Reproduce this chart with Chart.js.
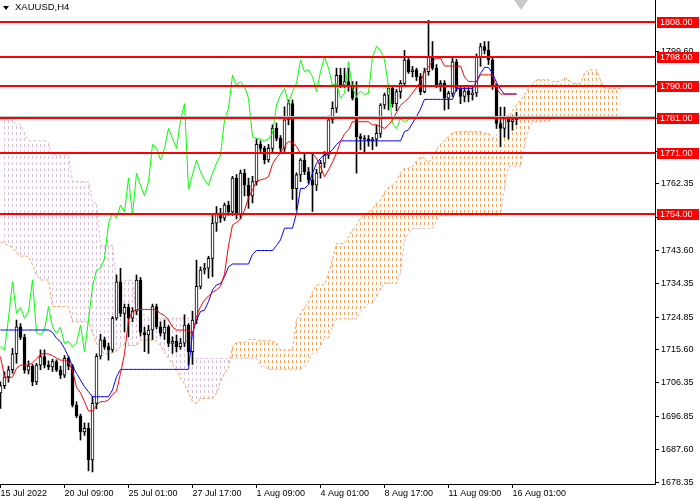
<!DOCTYPE html>
<html>
<head>
<meta charset="utf-8">
<script src="https://cdn.jsdelivr.net/npm/chart.js@4.4.0/dist/chart.umd.min.js"></script>
<style>
html, body { margin: 0; padding: 0; background: #fff; }
#wrap { position: relative; width: 700px; height: 500px; }
#symbol { position: absolute; left: 15px; top: 1px; font: 9.5px "Liberation Sans", Arial, sans-serif; color: #000; }
#menu { position: absolute; left: 3px; top: 6px; width: 0; height: 0; border-left: 3.5px solid transparent; border-right: 3.5px solid transparent; border-top: 4px solid #000; }
#shift { position: absolute; left: 514px; top: 0; width: 0; height: 0; border-left: 7px solid transparent; border-right: 7px solid transparent; border-top: 10px solid #c8c8c8; }
</style>
</head>
<body>
<div id="wrap">
<canvas id="chart" width="700" height="500"></canvas>
<div id="menu"></div>
<div id="symbol">XAUUSD,H4</div>
<div id="shift"></div>
</div>
<script>
// Datos de las velas H4 (barra 0 = 15 Jul 17:00)
const openPrices = [
  1703.5, 1705.5, 1708.0, 1710.0, 1714.5, 1722.1, 1719.1, 1709.9, 1711.0, 1706.6,
  1711.3, 1713.7, 1711.3, 1710.8, 1712.3, 1709.9, 1708.5, 1713.2, 1711.0, 1700.0,
  1697.0, 1692.5, 1693.5, 1684.6, 1700.5, 1713.8, 1718.4, 1716.5, 1715.6, 1724.5,
  1734.8, 1725.9, 1727.6, 1724.5, 1726.5, 1735.3, 1720.5, 1719.8, 1721.2, 1727.8,
  1722.1, 1720.3, 1722.0, 1717.4, 1718.0, 1716.5, 1717.5, 1722.6, 1715.1, 1724.0,
  1733.5, 1738.1, 1738.6, 1741.4, 1751.3, 1754.1, 1752.7, 1756.4, 1754.5, 1764.0,
  1753.6, 1765.4, 1762.0, 1759.0, 1763.0, 1773.5, 1772.4, 1769.1, 1772.4, 1778.0,
  1775.2, 1772.4, 1780.4, 1785.0, 1761.0, 1764.9, 1769.1, 1765.8, 1763.5, 1762.0,
  1765.4, 1768.2, 1770.5, 1780.4, 1783.7, 1793.0, 1790.2, 1791.2, 1789.8, 1786.5,
  1775.7, 1775.2, 1775.0, 1774.5, 1775.0, 1776.6, 1784.6, 1787.4, 1789.3, 1785.0,
  1788.4, 1790.7, 1797.3, 1794.0, 1794.5, 1792.6, 1788.4, 1794.0, 1798.2, 1795.0,
  1790.2, 1790.7, 1786.5, 1787.9, 1796.8, 1789.3, 1787.0, 1788.5, 1787.5, 1788.0,
  1798.2, 1801.1, 1800.0, 1797.3, 1789.8, 1779.4, 1778.0, 1780.8, 1779.9, 1780.5
];
const highPrices = [
  1706.6, 1709.4, 1711.0, 1716.0, 1724.0, 1723.0, 1720.0, 1712.5, 1711.5, 1711.8,
  1715.6, 1715.6, 1712.5, 1713.0, 1712.8, 1711.0, 1714.0, 1713.8, 1711.5, 1701.0,
  1697.5, 1695.0, 1695.0, 1702.4, 1714.5, 1720.0, 1719.2, 1717.5, 1725.0, 1736.7,
  1738.6, 1728.5, 1728.5, 1727.5, 1736.7, 1736.0, 1722.0, 1722.5, 1728.5, 1728.5,
  1723.5, 1724.0, 1722.5, 1719.3, 1719.8, 1718.8, 1725.5, 1723.0, 1726.5, 1740.9,
  1739.0, 1740.0, 1742.0, 1754.1, 1756.0, 1755.5, 1757.0, 1757.5, 1764.5, 1765.0,
  1766.3, 1766.5, 1764.0, 1764.5, 1775.0, 1774.5, 1773.0, 1773.5, 1779.0, 1779.5,
  1776.0, 1784.1, 1786.0, 1786.0, 1765.5, 1769.5, 1771.0, 1767.0, 1771.0, 1766.5,
  1769.0, 1771.5, 1781.5, 1785.5, 1795.0, 1795.0, 1795.0, 1795.0, 1791.2, 1791.2,
  1776.5, 1776.0, 1776.0, 1775.5, 1779.0, 1785.0, 1788.0, 1790.2, 1790.0, 1789.0,
  1791.5, 1800.0, 1798.0, 1795.5, 1795.0, 1793.5, 1795.0, 1808.5, 1802.5, 1796.0,
  1791.5, 1791.5, 1788.5, 1798.0, 1797.5, 1790.0, 1789.5, 1789.5, 1789.5, 1799.0,
  1802.0, 1802.5, 1802.5, 1798.0, 1790.5, 1784.0, 1784.0, 1781.5, 1781.5, 1782.5
];
const lowPrices = [
  1699.1, 1704.7, 1706.5, 1709.0, 1711.8, 1718.5, 1709.0, 1708.8, 1705.5, 1705.8,
  1710.0, 1710.5, 1710.0, 1709.5, 1709.5, 1707.5, 1707.8, 1710.0, 1699.5, 1696.5,
  1690.2, 1691.5, 1681.5, 1681.2, 1699.0, 1713.0, 1715.8, 1712.7, 1715.0, 1724.0,
  1725.0, 1720.7, 1719.3, 1723.5, 1725.5, 1719.5, 1715.1, 1714.6, 1718.5, 1721.5,
  1719.5, 1718.5, 1716.5, 1714.6, 1715.0, 1715.8, 1716.5, 1711.3, 1711.5, 1723.0,
  1732.8, 1737.0, 1735.8, 1736.2, 1749.0, 1751.5, 1752.0, 1753.5, 1753.5, 1752.5,
  1752.5, 1759.0, 1755.5, 1757.0, 1762.0, 1771.5, 1768.0, 1768.5, 1771.5, 1774.5,
  1771.5, 1771.5, 1779.0, 1758.0, 1755.0, 1763.0, 1765.0, 1762.5, 1754.6, 1760.5,
  1764.0, 1767.0, 1769.5, 1779.5, 1782.5, 1789.5, 1789.5, 1788.5, 1786.0, 1765.4,
  1772.0, 1771.0, 1773.0, 1772.0, 1773.0, 1775.5, 1783.5, 1783.2, 1784.0, 1783.0,
  1786.5, 1790.0, 1793.5, 1792.5, 1791.5, 1787.5, 1788.0, 1793.0, 1794.5, 1789.5,
  1788.5, 1783.2, 1783.5, 1787.0, 1788.5, 1785.0, 1785.5, 1785.5, 1786.0, 1787.0,
  1795.5, 1799.0, 1796.0, 1789.0, 1778.0, 1772.8, 1775.5, 1775.0, 1777.5, 1779.0
];
const closePrices = [
  1705.5, 1708.0, 1710.0, 1714.5, 1722.1, 1719.1, 1709.9, 1711.0, 1706.6, 1711.3,
  1713.7, 1711.3, 1710.8, 1712.3, 1709.9, 1708.5, 1713.2, 1711.0, 1700.0, 1697.0,
  1692.5, 1693.5, 1684.6, 1700.5, 1713.8, 1718.4, 1716.5, 1715.6, 1724.5, 1734.8,
  1725.9, 1727.6, 1724.5, 1726.5, 1735.3, 1720.5, 1719.8, 1721.2, 1727.8, 1722.1,
  1720.3, 1722.0, 1717.4, 1718.0, 1716.5, 1717.5, 1722.6, 1715.1, 1724.0, 1733.5,
  1738.1, 1738.6, 1741.4, 1751.3, 1754.1, 1752.7, 1756.4, 1754.5, 1764.0, 1753.6,
  1765.4, 1762.0, 1759.0, 1763.0, 1773.5, 1772.4, 1769.1, 1772.4, 1778.0, 1775.2,
  1772.4, 1780.4, 1785.0, 1761.0, 1764.9, 1769.1, 1765.8, 1763.5, 1762.0, 1765.4,
  1768.2, 1770.5, 1780.4, 1783.7, 1793.0, 1790.2, 1791.2, 1789.8, 1786.5, 1775.7,
  1775.2, 1775.0, 1774.5, 1775.0, 1776.6, 1784.6, 1787.4, 1789.3, 1785.0, 1788.4,
  1790.7, 1797.3, 1794.0, 1794.5, 1792.6, 1788.4, 1794.0, 1798.2, 1795.0, 1790.2,
  1790.7, 1786.5, 1787.9, 1796.8, 1789.3, 1787.0, 1788.5, 1787.5, 1788.0, 1798.2,
  1801.1, 1800.0, 1797.3, 1789.8, 1779.4, 1778.0, 1780.8, 1779.9, 1780.5, 1781.3
];

// Lineas Ichimoku
const tenkan = [
  1713.7, 1708.0, 1707.6, 1708.0, 1710.4, 1711.3, 1711.3, 1711.3, 1712.0, 1713.0,
  1714.3, 1714.6, 1714.4, 1714.0, 1713.3, 1712.7, 1712.7, 1712.3, 1709.8, 1705.0,
  1703.5, 1701.0, 1698.4, 1698.4, 1700.0, 1701.0, 1701.0, 1701.5, 1703.0, 1704.0,
  1709.0, 1714.5, 1724.0, 1726.4, 1727.0, 1727.0, 1727.0, 1727.0, 1727.0, 1726.8,
  1725.9, 1725.3, 1724.0, 1722.0, 1721.2, 1721.2, 1721.2, 1721.2, 1720.0, 1725.0,
  1727.8, 1729.6, 1730.8, 1731.8, 1732.5, 1733.5, 1737.0, 1745.0, 1750.8, 1751.5,
  1752.5, 1755.0, 1758.5, 1760.6, 1763.2, 1763.5, 1763.8, 1764.4, 1768.0, 1769.8,
  1771.0, 1773.0, 1774.3, 1774.0, 1772.9, 1771.0, 1771.0, 1771.0, 1771.0, 1769.6,
  1767.2, 1764.4, 1766.3, 1768.5, 1771.0, 1774.3, 1776.5, 1777.6, 1779.9, 1779.9,
  1779.9, 1779.9, 1779.9, 1779.0, 1779.0, 1778.5, 1778.0, 1779.0, 1780.4, 1782.5,
  1784.5, 1785.5, 1786.5, 1788.0, 1789.5, 1791.2, 1794.0, 1795.4, 1797.0, 1797.8,
  1797.8, 1795.6, 1795.6, 1795.6, 1795.6, 1795.6, 1792.5, 1791.2, 1791.2, 1791.2,
  1793.1, 1793.1, 1793.1, 1793.1, 1789.3, 1787.7, 1787.7, 1787.7, 1787.7, 1787.7
];
const kijun = [
  1721.2, 1721.2, 1721.2, 1721.2, 1721.2, 1721.2, 1721.2, 1721.2, 1721.2, 1721.2,
  1721.2, 1721.2, 1721.2, 1720.5, 1718.9, 1717.9, 1716.0, 1713.7, 1711.0, 1709.0,
  1707.1, 1705.2, 1703.8, 1702.4, 1702.4, 1702.4, 1702.4, 1702.4, 1704.3, 1708.0,
  1710.1, 1710.1, 1710.1, 1710.1, 1710.1, 1710.1, 1710.1, 1710.1, 1710.1, 1710.1,
  1710.1, 1710.1, 1710.1, 1710.1, 1710.1, 1710.1, 1710.1, 1710.1, 1720.3, 1724.0,
  1726.4, 1726.8, 1729.2, 1732.5, 1733.9, 1734.3, 1736.2, 1739.0, 1739.8, 1739.8,
  1739.8, 1739.8, 1739.8, 1742.5, 1743.6, 1743.6, 1743.6, 1743.6, 1743.6, 1745.0,
  1746.6, 1749.9, 1749.9, 1749.9, 1754.1, 1761.1, 1761.1, 1762.1, 1765.4, 1768.2,
  1769.6, 1770.5, 1771.0, 1772.0, 1773.5, 1774.5, 1774.5, 1774.5, 1774.5, 1774.5,
  1774.5, 1774.5, 1774.5, 1774.5, 1774.5, 1774.5, 1774.5, 1774.5, 1774.5, 1774.5,
  1774.5, 1777.1, 1777.6, 1779.5, 1781.3, 1783.5, 1786.2, 1786.2, 1786.2, 1786.2,
  1786.2, 1786.2, 1786.2, 1786.2, 1789.3, 1789.3, 1789.3, 1789.3, 1789.3, 1791.2,
  1793.5, 1795.2, 1795.2, 1793.5, 1791.0, 1789.0, 1787.7, 1787.7, 1787.7, 1787.7
];
const chikou = [
  1716.5, 1715.6, 1724.5, 1734.8, 1725.9, 1727.6, 1724.5, 1726.5, 1735.3, 1720.5,
  1719.8, 1721.2, 1727.8, 1722.1, 1720.3, 1722.0, 1717.4, 1718.0, 1716.5, 1717.5,
  1722.6, 1715.1, 1724.0, 1733.5, 1738.1, 1738.6, 1741.4, 1751.3, 1754.1, 1752.7,
  1756.4, 1754.5, 1764.0, 1753.6, 1765.4, 1762.0, 1759.0, 1763.0, 1773.5, 1772.4,
  1769.1, 1772.4, 1778.0, 1775.2, 1772.4, 1780.4, 1785.0, 1761.0, 1764.9, 1769.1,
  1765.8, 1763.5, 1762.0, 1765.4, 1768.2, 1770.5, 1780.4, 1783.7, 1793.0, 1790.2,
  1791.2, 1789.8, 1786.5, 1775.7, 1775.2, 1775.0, 1774.5, 1775.0, 1776.6, 1784.6,
  1787.4, 1789.3, 1785.0, 1788.4, 1790.7, 1797.3, 1794.0, 1794.5, 1792.6, 1788.4,
  1794.0, 1798.2, 1795.0, 1790.2, 1790.7, 1786.5, 1787.9, 1796.8, 1789.3, 1787.0,
  1788.5, 1787.5, 1788.0, 1798.2, 1801.1, 1800.0, 1797.3, 1789.8, 1779.4, 1778.0,
  1780.8, 1779.9, 1780.5, 1781.3
];
const spanA = [
  1746.0, 1745.5, 1745.0, 1744.5, 1743.0, 1742.0, 1742.0, 1742.0, 1739.5, 1736.7,
  1735.3, 1735.3, 1735.3, 1727.8, 1727.8, 1727.8, 1727.8, 1727.8, 1723.5, 1723.5,
  1723.5, 1723.5, 1723.5, 1720.3, 1717.4, 1715.6, 1714.6, 1714.6, 1714.8, 1715.2,
  1716.5, 1717.2, 1716.8, 1716.8, 1716.8, 1718.4, 1718.4, 1718.4, 1718.4, 1718.0,
  1716.9, 1714.8, 1713.3, 1711.5, 1709.8, 1707.6, 1706.0, 1703.5, 1701.0, 1700.5,
  1701.9, 1701.9, 1701.9, 1701.9, 1703.5, 1706.5, 1709.0, 1710.5, 1716.5, 1717.7,
  1717.7, 1717.7, 1718.5, 1718.5, 1718.5, 1718.2, 1718.2, 1718.2, 1718.2, 1717.4,
  1715.6, 1715.6, 1715.6, 1715.6, 1724.0, 1725.9, 1727.5, 1729.0, 1732.0, 1733.9,
  1733.9, 1733.9, 1737.2, 1741.0, 1745.6, 1745.6, 1745.6, 1747.5, 1749.4, 1750.8,
  1752.7, 1753.6, 1754.5, 1755.2, 1757.0, 1757.8, 1760.0, 1761.4, 1762.0, 1763.0,
  1765.5, 1766.8, 1766.8, 1767.2, 1768.8, 1770.0, 1769.6, 1768.2, 1770.0, 1772.0,
  1773.5, 1774.5, 1775.8, 1776.7, 1777.1, 1777.1, 1777.1, 1777.1, 1777.1, 1777.1,
  1777.1, 1776.6, 1776.6, 1775.2, 1776.0, 1777.5, 1779.0, 1781.0, 1783.0, 1784.6,
  1786.0, 1787.4, 1789.3, 1790.7, 1791.7, 1791.7, 1791.7, 1791.7, 1791.2, 1791.2,
  1791.2, 1792.3, 1791.7, 1790.7, 1790.7, 1790.7, 1793.5, 1794.5, 1794.5, 1794.5,
  1791.5, 1789.3, 1789.3, 1789.3, 1789.3, 1789.3
];
const spanB = [
  1780.4, 1780.4, 1780.4, 1780.4, 1779.2, 1779.2, 1776.7, 1774.5, 1774.5, 1774.5,
  1774.5, 1774.5, 1773.9, 1770.5, 1770.5, 1770.5, 1770.5, 1770.5, 1763.0, 1763.0,
  1763.0, 1763.0, 1763.0, 1757.0, 1757.0, 1745.0, 1745.0, 1745.0, 1745.0, 1735.2,
  1735.2, 1735.2, 1735.2, 1735.2, 1725.5, 1725.5, 1725.5, 1724.5, 1724.5, 1724.5,
  1724.5, 1724.5, 1724.5, 1724.5, 1724.5, 1724.5, 1724.5, 1724.5, 1713.2, 1713.2,
  1713.2, 1713.2, 1713.2, 1713.2, 1713.2, 1713.2, 1713.2, 1713.2, 1713.2, 1713.2,
  1713.2, 1713.2, 1713.2, 1713.2, 1713.2, 1710.9, 1710.9, 1710.1, 1710.1, 1710.1,
  1710.1, 1710.1, 1710.1, 1710.1, 1710.1, 1710.1, 1710.9, 1712.3, 1714.6, 1714.6,
  1716.5, 1719.0, 1719.0, 1722.0, 1724.3, 1724.3, 1724.3, 1724.3, 1724.3, 1724.3,
  1726.4, 1727.5, 1728.7, 1728.7, 1730.6, 1732.5, 1734.3, 1734.3, 1734.3, 1734.3,
  1737.2, 1746.5, 1748.4, 1749.8, 1749.8, 1749.8, 1749.8, 1749.8, 1749.8, 1752.0,
  1753.5, 1753.5, 1753.5, 1753.5, 1753.5, 1753.5, 1753.5, 1753.5, 1753.5, 1753.5,
  1753.5, 1753.5, 1753.5, 1753.5, 1753.5, 1753.5, 1761.0, 1767.2, 1767.2, 1767.2,
  1767.2, 1773.0, 1777.5, 1779.9, 1779.9, 1779.9, 1779.9, 1779.9, 1781.2, 1781.2,
  1781.2, 1781.2, 1781.2, 1781.2, 1781.2, 1781.2, 1781.2, 1781.2, 1781.2, 1781.2,
  1781.2, 1781.2, 1781.2, 1781.2, 1781.2, 1781.2
];

// Niveles horizontales y precio actual
const levels = [1808, 1798, 1790, 1781, 1771, 1754];
const bidPrice = 1781.35;

// Etiquetas de los ejes
const xTickBars = [0, 16, 32, 48, 64, 80, 96, 112, 128];
const xTickLabels = ['15 Jul 2022', '20 Jul 09:00', '25 Jul 01:00', '27 Jul 17:00', '1 Aug 09:00',
  '4 Aug 01:00', '8 Aug 17:00', '11 Aug 09:00', '16 Aug 01:00'];
const yTickValues = [1678.35, 1687.60, 1696.85, 1706.35, 1715.60, 1724.85, 1734.35, 1743.60,
  1752.85, 1762.35, 1771.60, 1780.85, 1790.35, 1799.60];

const canvas = document.getElementById('chart');
const ctx = canvas.getContext('2d');
const axisFont = { family: 'Liberation Sans', size: 9 };

// Patron punteado vertical para la nube
const dotPattern = (color) => {
    const c = document.createElement('canvas');
    c.width = 4;
    c.height = 6;
    const g = c.getContext('2d');
    g.fillStyle = color;
    g.fillRect(0, 0, 1, 3);
    return ctx.createPattern(c, 'repeat');
};

const toPoints = (arr) => arr.map((v, i) => ({ x: i, y: v }));

const bodies = openPrices.map((o, i) => ({ x: i, y: [o, closePrices[i]] }));
const bodyColors = openPrices.map((o, i) => closePrices[i] >= o ? '#FFFFFF' : '#000000');
const wicks = lowPrices.map((l, i) => ({ x: i, y: [l, highPrices[i]] }));

const lineStyle = { type: 'line', borderWidth: 1, pointRadius: 0, tension: 0 };

// Lineas horizontales y etiquetas rojas del eje
const levelsPlugin = {
    id: 'levels',
    afterDatasetsDraw(chart) {
        const { ctx, chartArea, scales: { y } } = chart;
        ctx.save();
        ctx.fillStyle = '#C0C0C0';
        ctx.fillRect(chartArea.left, Math.floor(y.getPixelForValue(bidPrice)), chartArea.width, 1);
        ctx.fillStyle = '#FF0000';
        levels.forEach((v) => {
            const py = Math.round(y.getPixelForValue(v));
            ctx.fillRect(chartArea.left, py - 1, chartArea.width, 2);
        });
        ctx.restore();
    },
    afterDraw(chart) {
        const { ctx, scales: { y } } = chart;
        ctx.save();
        ctx.font = '9px "Liberation Sans"';
        ctx.textBaseline = 'middle';
        ctx.textAlign = 'left';
        levels.forEach((v) => {
            const py = Math.round(y.getPixelForValue(v));
            ctx.fillStyle = '#FF0000';
            ctx.fillRect(657, py - 5, 42, 11);
            ctx.fillStyle = '#FFFFFF';
            ctx.fillText(v.toFixed(2), 660, py + 0.5);
        });
        ctx.restore();
    }
};

new Chart(ctx, {
    data: {
        datasets: [
            { ...lineStyle, label: 'Tenkan', data: toPoints(tenkan), borderColor: '#FF0000', order: 1 },
            { ...lineStyle, label: 'Kijun', data: toPoints(kijun), borderColor: '#0000FF', order: 2 },
            { ...lineStyle, label: 'Chikou', data: toPoints(chikou), borderColor: '#00FF00', order: 3 },
            {
                type: 'bar', label: 'Body', data: bodies, backgroundColor: bodyColors,
                borderColor: '#000000', borderWidth: 1, borderSkipped: false,
                barThickness: 3, grouped: false, order: 4
            },
            {
                type: 'bar', label: 'Wick', data: wicks, backgroundColor: '#000000',
                barThickness: 1, grouped: false, order: 5
            },
            {
                ...lineStyle, label: 'Span A', data: toPoints(spanA), borderColor: '#F4A460',
                borderDash: [3, 2],
                fill: { target: '+1', above: dotPattern('#F4A460'), below: dotPattern('#D8BFD8') },
                order: 6
            },
            { ...lineStyle, label: 'Span B', data: toPoints(spanB), borderColor: '#D8BFD8', borderDash: [3, 2], order: 7 }
        ]
    },
    options: {
        responsive: false,
        animation: false,
        devicePixelRatio: 1,
        layout: { padding: 0 },
        plugins: { legend: { display: false }, tooltip: { enabled: false } },
        scales: {
            x: {
                type: 'linear',
                offset: false,
                min: -0.125,
                max: 163.625,
                afterBuildTicks: (s) => { s.ticks = xTickBars.map((v) => ({ value: v })); },
                afterFit: (s) => { s.height = 16; s.paddingLeft = 0; s.paddingRight = 0; },
                ticks: {
                    callback: (v) => xTickLabels[xTickBars.indexOf(v)],
                    font: axisFont, color: '#000', align: 'start',
                    autoSkip: false, maxRotation: 0, minRotation: 0, padding: 0
                },
                grid: { drawOnChartArea: false, offset: false, tickLength: 4, color: '#000' },
                border: { color: '#000' }
            },
            y: {
                type: 'linear',
                position: 'right',
                min: 1677.8,
                max: 1814.2,
                afterBuildTicks: (s) => { s.ticks = yTickValues.map((v) => ({ value: v })); },
                afterFit: (s) => { s.width = 45; s.paddingTop = 0; s.paddingBottom = 0; },
                ticks: { callback: (v) => v.toFixed(2), font: axisFont, color: '#000', padding: 2, autoSkip: false },
                grid: { drawOnChartArea: false, tickLength: 4, color: '#000' },
                border: { color: '#000' }
            }
        }
    },
    plugins: [levelsPlugin]
});
</script>
</body>
</html>
